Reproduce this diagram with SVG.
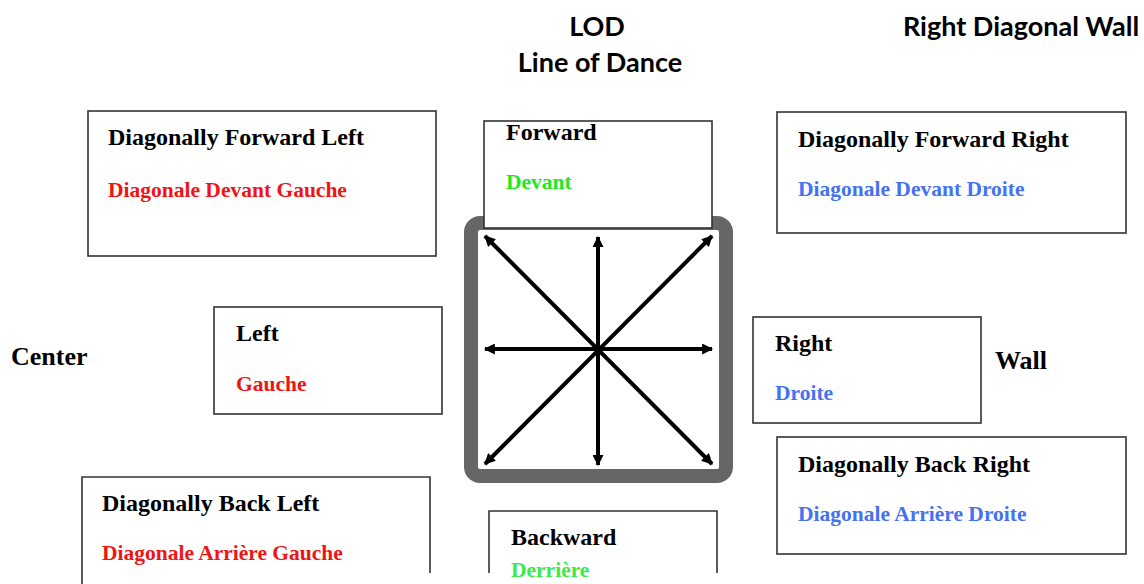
<svg xmlns="http://www.w3.org/2000/svg" width="1144" height="584" viewBox="0 0 1144 584">
<style>
.box{fill:#fff;stroke:#333;stroke-width:1.6}
.t{font-family:"Liberation Serif","Times New Roman",serif;font-weight:bold;font-size:24px;fill:#000}
.fr{font-family:"Liberation Serif","Times New Roman",serif;font-weight:bold;font-size:21.5px}
.red{fill:#f01414}
.blue{fill:#4472f2}
.green{fill:#1ee81e}
.green2{fill:#3aea46}
.big{font-family:"Liberation Serif","Times New Roman",serif;font-weight:bold;font-size:26px;fill:#000}
.hdr{font-family:Lato,"Open Sans",sans-serif;font-weight:bold;font-size:27px;fill:#000}
.arr{stroke:#000;stroke-width:4;fill:none;marker-start:url(#ah);marker-end:url(#ah)}
</style>
<defs>
<marker id="ah" viewBox="0 0 10 10" refX="9" refY="5" markerWidth="13" markerHeight="11" markerUnits="userSpaceOnUse" orient="auto-start-reverse">
<path d="M0,0 L10,5 L0,10 z" fill="#000"/>
</marker>
<filter id="sh" x="-10%" y="-10%" width="120%" height="120%">
<feGaussianBlur stdDeviation="1.5"/>
</filter>
</defs>
<rect width="1144" height="584" fill="#fff"/>

<g id="header">
<text class="hdr" x="597" y="36" text-anchor="middle">LOD</text>
<text class="hdr" x="600" y="72" text-anchor="middle">Line of Dance</text>
<text class="hdr" x="1021" y="36" text-anchor="middle">Right Diagonal Wall</text>
</g>

<g id="compass">
<rect x="473" y="226" width="255" height="253" rx="9" fill="#999" opacity="0.5" filter="url(#sh)"/>
<rect x="471" y="223" width="255" height="253" rx="9" fill="#fff" stroke="#666" stroke-width="14"/>
</g>

<g id="connectors">
<line class="arr" x1="598" y1="237" x2="598" y2="465"/>
<line class="arr" x1="485" y1="349" x2="712" y2="349"/>
<line class="arr" x1="485" y1="236" x2="712" y2="464"/>
<line class="arr" x1="712" y1="236" x2="485" y2="464"/>
</g>

<g id="forward">
<rect class="box" x="484" y="121" width="228" height="107"/>
<text class="t" x="506" y="140">Forward</text>
<text class="fr green" x="506" y="189">Devant</text>
</g>

<g id="diag-forward-left">
<rect class="box" x="88" y="111" width="348" height="145"/>
<text class="t" x="108" y="145">Diagonally Forward Left</text>
<text class="fr red" x="108" y="197">Diagonale Devant Gauche</text>
</g>

<g id="diag-forward-right">
<rect class="box" x="777" y="112" width="349" height="121"/>
<text class="t" x="798" y="147">Diagonally Forward Right</text>
<text class="fr blue" x="798" y="196">Diagonale Devant Droite</text>
</g>

<g id="center-label">
<text class="big" x="11" y="365">Center</text>
</g>

<g id="left">
<rect class="box" x="214" y="307" width="228" height="107"/>
<text class="t" x="236" y="341">Left</text>
<text class="fr red" x="236" y="391">Gauche</text>
</g>

<g id="right">
<rect class="box" x="753" y="317" width="228" height="106"/>
<text class="t" x="775" y="351">Right</text>
<text class="fr blue" x="775" y="400">Droite</text>
</g>

<g id="wall-label">
<text class="big" x="995" y="369">Wall</text>
</g>

<g id="diag-back-right">
<rect class="box" x="777" y="437" width="349" height="117"/>
<text class="t" x="798" y="472">Diagonally Back Right</text>
<text class="fr blue" x="798" y="521">Diagonale Arrière Droite</text>
</g>

<g id="diag-back-left">
<path class="box" fill="none" d="M82,590 L82,477 L430,477 L430,573"/>
<text class="t" x="102" y="511">Diagonally Back Left</text>
<text class="fr red" x="102" y="560">Diagonale Arrière Gauche</text>
</g>

<g id="backward">
<path class="box" fill="none" d="M489,573 L489,511 L717,511 L717,573"/>
<text class="t" x="511" y="545">Backward</text>
<text class="fr green2" x="511" y="577">Derrière</text>
</g>
</svg>
